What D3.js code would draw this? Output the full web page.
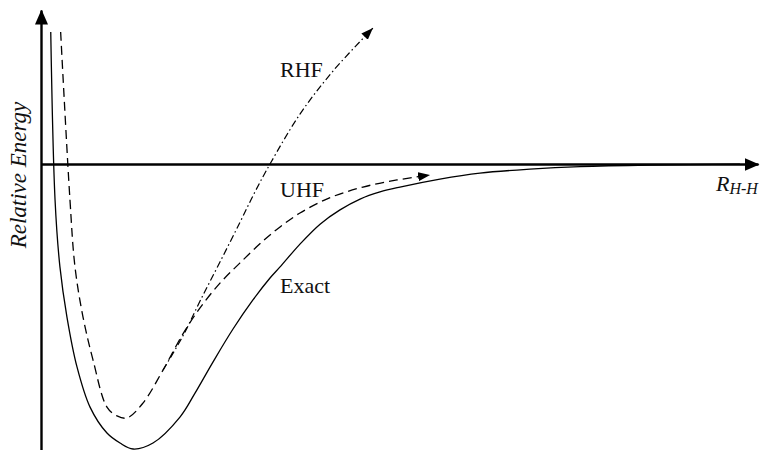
<!DOCTYPE html>
<html>
<head>
<meta charset="utf-8">
<script src="https://cdn.jsdelivr.net/npm/d3@7"></script>
<style>
  html, body { margin: 0; padding: 0; background: #fff; }
  svg { display: block; }
  text { font-family: "Liberation Serif", "Times New Roman", serif; fill: #111; }
</style>
</head>
<body>
<div id="chart"></div>
<script>
// ---- data (R in arbitrary length units, E relative energy, dissociation limit = 0) ----
const exactR = [0.068, 0.098, 0.132, 0.181, 0.251, 0.342, 0.460, 0.551, 0.642, 0.781, 0.969, 1.074, 1.199, 1.339, 1.478, 1.597, 1.667, 1.806, 1.946, 2.085, 2.225, 2.364, 2.503, 2.782, 3.061, 3.410, 3.759, 4.247, 4.874];
const exactE = [0.463, -0.126, -0.361, -0.537, -0.712, -0.853, -0.944, -0.979, -1.000, -0.979, -0.888, -0.804, -0.695, -0.579, -0.477, -0.400, -0.361, -0.281, -0.211, -0.161, -0.123, -0.098, -0.081, -0.053, -0.032, -0.018, -0.009, -0.0035, -0.0007];

const uhfR = [0.137, 0.202, 0.237, 0.293, 0.363, 0.460, 0.530, 0.600, 0.711, 0.851, 0.990, 1.109, 1.248, 1.388, 1.548, 1.667, 1.806, 2.016, 2.245, 2.483, 2.713];
const uhfE = [0.463, -0.126, -0.361, -0.537, -0.688, -0.853, -0.884, -0.891, -0.839, -0.723, -0.596, -0.505, -0.418, -0.347, -0.270, -0.221, -0.172, -0.118, -0.081, -0.056, -0.039];

const rhfR = [0.851, 0.990, 1.109, 1.248, 1.388, 1.492, 1.597, 1.806, 2.036, 2.315];
const rhfE = [-0.723, -0.603, -0.481, -0.344, -0.204, -0.098, 0.000, 0.175, 0.326, 0.477];

const curveLabels = ["RHF", "UHF", "Exact"];
const labelR = [1.667, 1.667, 1.667];
const labelE = [0.305, -0.116, -0.453];
const yTitle = "Relative Energy";
const xTitleMain = "R";
const xTitleSub = "H-H";

// ---- layout ----
const W = 760, H = 450;
const x = d3.scaleLinear().domain([0, 5]).range([41, 758]);
const y = d3.scaleLinear().domain([-1, 0]).range([449, 164]);

const svg = d3.select("#chart").append("svg")
  .attr("width", W).attr("height", H)
  .attr("viewBox", `0 0 ${W} ${H}`);

const defs = svg.append("defs");
defs.append("marker").attr("id", "axArrow")
  .attr("markerUnits", "userSpaceOnUse")
  .attr("viewBox", "0 -7 15 14").attr("refX", 14).attr("refY", 0)
  .attr("markerWidth", 15).attr("markerHeight", 14).attr("orient", "auto")
  .append("path").attr("d", "M0,-6.5L15,0L0,6.5Z").attr("fill", "#000");
defs.append("marker").attr("id", "lnArrow")
  .attr("markerUnits", "userSpaceOnUse")
  .attr("viewBox", "0 -5 13 10").attr("refX", 12).attr("refY", 0)
  .attr("markerWidth", 13).attr("markerHeight", 10).attr("orient", "auto")
  .append("path").attr("d", "M0,-4.5L12,0L0,4.5Z").attr("fill", "#000");

// ---- axes (no ticks, arrow heads) ----
const gx = svg.append("g").attr("transform", `translate(0,${y(0)})`)
  .call(d3.axisBottom(x).tickValues([]).tickSizeOuter(0));
gx.select(".domain").attr("stroke", "#000").attr("stroke-width", 2.4).attr("marker-end", "url(#axArrow)");

const yAxisScale = y.copy().domain([y.invert(452), y.invert(10)]).range([452, 10]);
const gy = svg.append("g").attr("transform", `translate(${x(0)},0)`)
  .call(d3.axisLeft(yAxisScale).tickValues([]).tickSizeOuter(0));
gy.select(".domain").attr("stroke", "#000").attr("stroke-width", 2.4).attr("marker-end", "url(#axArrow)");

// ---- curves ----
const line = d3.line().x(d => x(d[0])).y(d => y(d[1])).curve(d3.curveCatmullRom.alpha(0.5));
const zip = (a, b) => a.map((v, i) => [v, b[i]]);

svg.append("path").datum(zip(exactR, exactE))
  .attr("d", line).attr("fill", "none").attr("stroke", "#000").attr("stroke-width", 1.3);

svg.append("path").datum(zip(rhfR, rhfE))
  .attr("d", line).attr("fill", "none").attr("stroke", "#000").attr("stroke-width", 1.2)
  .attr("stroke-dasharray", "7,3,1.5,3").attr("marker-end", "url(#lnArrow)");

svg.append("path").datum(zip(uhfR, uhfE))
  .attr("d", line).attr("fill", "none").attr("stroke", "#000").attr("stroke-width", 1.3)
  .attr("stroke-dasharray", "9,5").attr("marker-end", "url(#lnArrow)");

// ---- labels ----
svg.selectAll("text.clabel").data(curveLabels).join("text")
  .attr("class", "clabel")
  .attr("x", (d, i) => x(labelR[i])).attr("y", (d, i) => y(labelE[i]))
  .attr("font-size", 22).text(d => d);

svg.append("text")
  .attr("transform", `translate(26,175) rotate(-90)`)
  .attr("text-anchor", "middle").attr("font-style", "italic").attr("font-size", 23)
  .text(yTitle);

const xt = svg.append("text").attr("x", 716).attr("y", 191)
  .attr("font-style", "italic").attr("font-size", 22);
xt.append("tspan").text(xTitleMain);
xt.append("tspan").attr("font-size", 16).attr("dy", 3).text(xTitleSub);
</script>
</body>
</html>
